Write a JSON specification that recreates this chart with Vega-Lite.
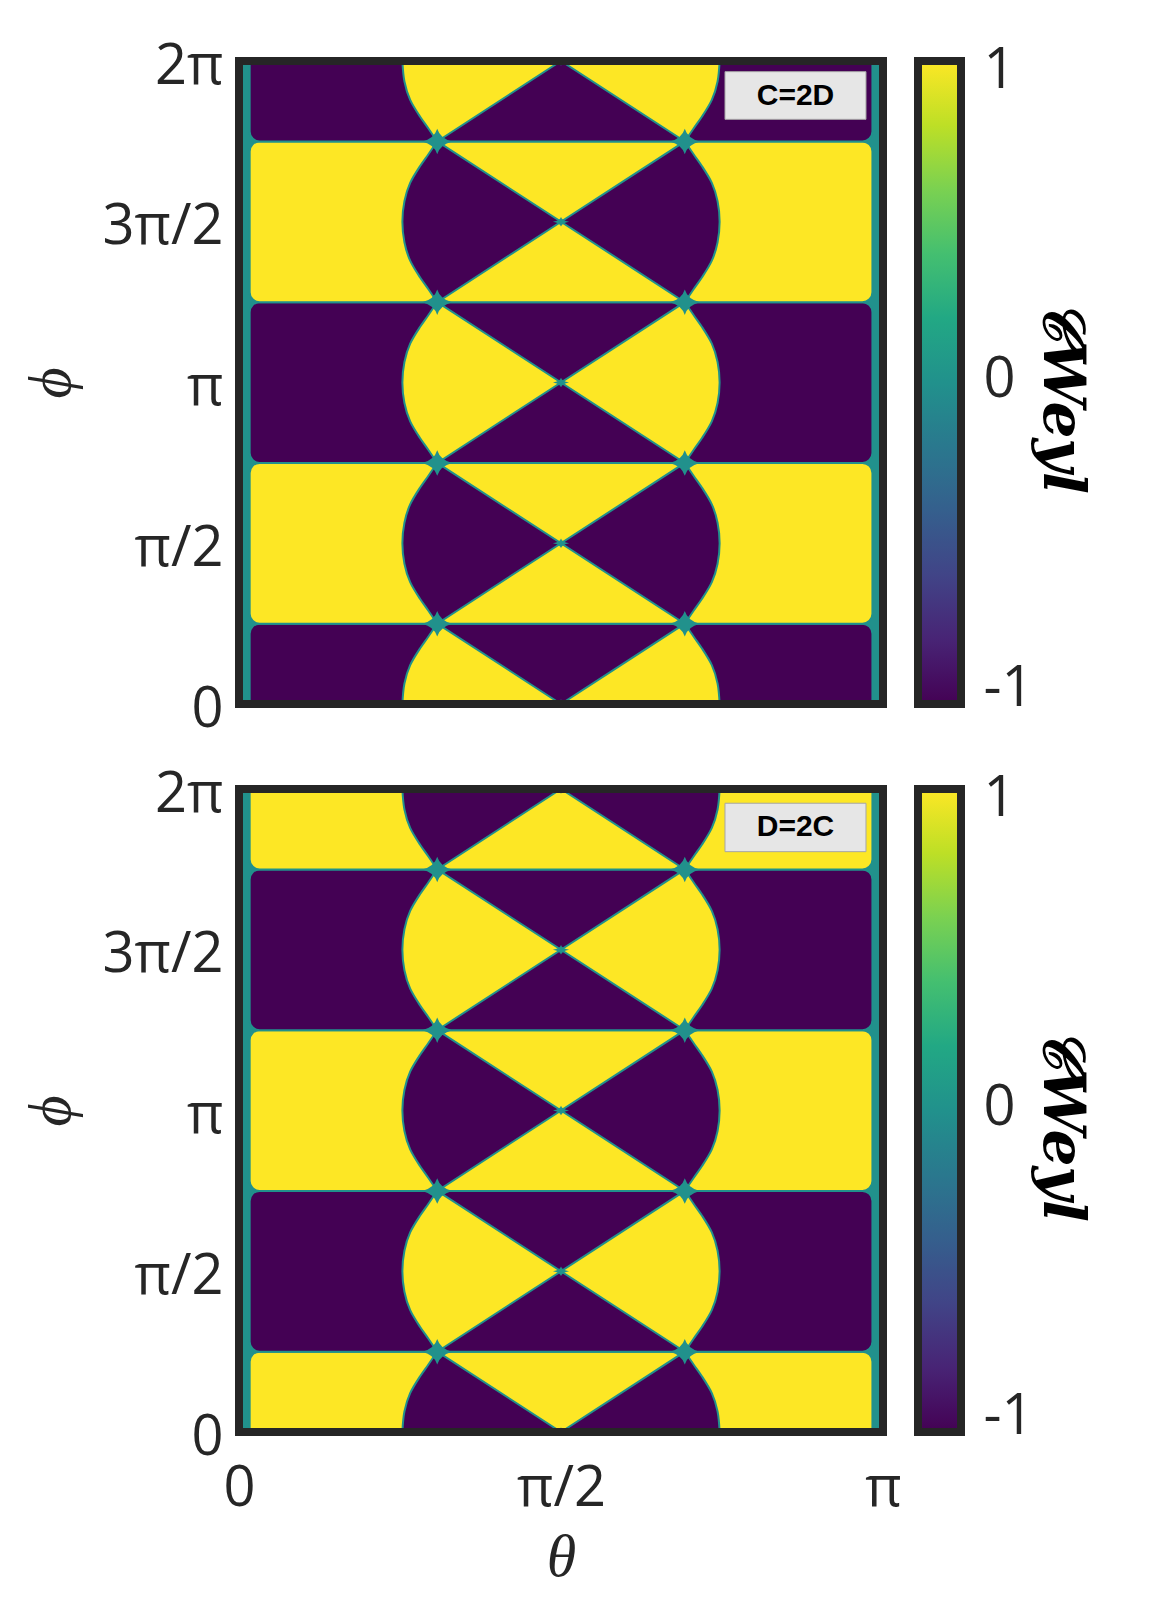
{
  "$schema": "https://vega.github.io/schema/vega-lite/v6.json",
  "background": "white",
  "padding": {"left": 21, "top": 38, "right": 40, "bottom": 5},
  "config": {
    "view": {"stroke": null},
    "axis": {"labelFont": "Open Sans", "labelColor": "#262626", "titleColor": "#262626", "grid": false, "domain": false, "ticks": false, "labelOverlap": false, "labelFlush": false}
  },
  "datasets": {
    "bands": [
      {"id": "b0", "t1": 0.052, "t2": 3.09, "p1": -0.2, "p2": 0.7854, "top": -1, "bot": 1},
      {"id": "b1", "t1": 0.052, "t2": 3.09, "p1": 0.7854, "p2": 2.3562, "top": 1, "bot": -1},
      {"id": "b2", "t1": 0.052, "t2": 3.09, "p1": 2.3562, "p2": 3.927, "top": -1, "bot": 1},
      {"id": "b3", "t1": 0.052, "t2": 3.09, "p1": 3.927, "p2": 5.4978, "top": 1, "bot": -1},
      {"id": "b4", "t1": 0.052, "t2": 3.09, "p1": 5.4978, "p2": 6.5, "top": -1, "bot": 1}
    ],
    "lens": [
      {"id": "L0", "p": 0.0, "a": 0.797, "b": 2.3446, "top": 1, "bot": -1},
      {"id": "L0", "p": 0.2, "a": 0.807, "b": 2.3346, "top": 1, "bot": -1},
      {"id": "L0", "p": 0.38, "a": 0.835, "b": 2.3066, "top": 1, "bot": -1},
      {"id": "L0", "p": 0.54, "a": 0.882, "b": 2.2596, "top": 1, "bot": -1},
      {"id": "L0", "p": 0.66, "a": 0.924, "b": 2.2176, "top": 1, "bot": -1},
      {"id": "L0", "p": 0.7854, "a": 0.967, "b": 2.1746, "top": 1, "bot": -1},
      {"id": "L1", "p": 0.7854, "a": 0.967, "b": 2.1746, "top": -1, "bot": 1},
      {"id": "L1", "p": 0.9108, "a": 0.924, "b": 2.2176, "top": -1, "bot": 1},
      {"id": "L1", "p": 1.0308, "a": 0.882, "b": 2.2596, "top": -1, "bot": 1},
      {"id": "L1", "p": 1.1908, "a": 0.835, "b": 2.3066, "top": -1, "bot": 1},
      {"id": "L1", "p": 1.3708, "a": 0.807, "b": 2.3346, "top": -1, "bot": 1},
      {"id": "L1", "p": 1.5708, "a": 0.797, "b": 2.3446, "top": -1, "bot": 1},
      {"id": "L1", "p": 1.7708, "a": 0.807, "b": 2.3346, "top": -1, "bot": 1},
      {"id": "L1", "p": 1.9508, "a": 0.835, "b": 2.3066, "top": -1, "bot": 1},
      {"id": "L1", "p": 2.1108, "a": 0.882, "b": 2.2596, "top": -1, "bot": 1},
      {"id": "L1", "p": 2.2308, "a": 0.924, "b": 2.2176, "top": -1, "bot": 1},
      {"id": "L1", "p": 2.3562, "a": 0.967, "b": 2.1746, "top": -1, "bot": 1},
      {"id": "L2", "p": 2.3562, "a": 0.967, "b": 2.1746, "top": 1, "bot": -1},
      {"id": "L2", "p": 2.4816, "a": 0.924, "b": 2.2176, "top": 1, "bot": -1},
      {"id": "L2", "p": 2.6016, "a": 0.882, "b": 2.2596, "top": 1, "bot": -1},
      {"id": "L2", "p": 2.7616, "a": 0.835, "b": 2.3066, "top": 1, "bot": -1},
      {"id": "L2", "p": 2.9416, "a": 0.807, "b": 2.3346, "top": 1, "bot": -1},
      {"id": "L2", "p": 3.1416, "a": 0.797, "b": 2.3446, "top": 1, "bot": -1},
      {"id": "L2", "p": 3.3416, "a": 0.807, "b": 2.3346, "top": 1, "bot": -1},
      {"id": "L2", "p": 3.5216, "a": 0.835, "b": 2.3066, "top": 1, "bot": -1},
      {"id": "L2", "p": 3.6816, "a": 0.882, "b": 2.2596, "top": 1, "bot": -1},
      {"id": "L2", "p": 3.8016, "a": 0.924, "b": 2.2176, "top": 1, "bot": -1},
      {"id": "L2", "p": 3.927, "a": 0.967, "b": 2.1746, "top": 1, "bot": -1},
      {"id": "L3", "p": 3.927, "a": 0.967, "b": 2.1746, "top": -1, "bot": 1},
      {"id": "L3", "p": 4.0524, "a": 0.924, "b": 2.2176, "top": -1, "bot": 1},
      {"id": "L3", "p": 4.1724, "a": 0.882, "b": 2.2596, "top": -1, "bot": 1},
      {"id": "L3", "p": 4.3324, "a": 0.835, "b": 2.3066, "top": -1, "bot": 1},
      {"id": "L3", "p": 4.5124, "a": 0.807, "b": 2.3346, "top": -1, "bot": 1},
      {"id": "L3", "p": 4.7124, "a": 0.797, "b": 2.3446, "top": -1, "bot": 1},
      {"id": "L3", "p": 4.9124, "a": 0.807, "b": 2.3346, "top": -1, "bot": 1},
      {"id": "L3", "p": 5.0924, "a": 0.835, "b": 2.3066, "top": -1, "bot": 1},
      {"id": "L3", "p": 5.2524, "a": 0.882, "b": 2.2596, "top": -1, "bot": 1},
      {"id": "L3", "p": 5.3724, "a": 0.924, "b": 2.2176, "top": -1, "bot": 1},
      {"id": "L3", "p": 5.4978, "a": 0.967, "b": 2.1746, "top": -1, "bot": 1},
      {"id": "L4", "p": 5.4978, "a": 0.967, "b": 2.1746, "top": 1, "bot": -1},
      {"id": "L4", "p": 5.6232, "a": 0.924, "b": 2.2176, "top": 1, "bot": -1},
      {"id": "L4", "p": 5.7432, "a": 0.882, "b": 2.2596, "top": 1, "bot": -1},
      {"id": "L4", "p": 5.9032, "a": 0.835, "b": 2.3066, "top": 1, "bot": -1},
      {"id": "L4", "p": 6.0832, "a": 0.807, "b": 2.3346, "top": 1, "bot": -1},
      {"id": "L4", "p": 6.2832, "a": 0.797, "b": 2.3446, "top": 1, "bot": -1}
    ],
    "bows": [
      {"id": "W0", "p": 0.0, "a": 1.5708, "b": 1.5708, "top": -1, "bot": 1},
      {"id": "W0", "p": 0.7854, "a": 0.967, "b": 2.1746, "top": -1, "bot": 1},
      {"id": "W1", "p": 0.7854, "a": 0.967, "b": 2.1746, "top": 1, "bot": -1},
      {"id": "W1", "p": 1.5708, "a": 1.5708, "b": 1.5708, "top": 1, "bot": -1},
      {"id": "W1", "p": 2.3562, "a": 0.967, "b": 2.1746, "top": 1, "bot": -1},
      {"id": "W2", "p": 2.3562, "a": 0.967, "b": 2.1746, "top": -1, "bot": 1},
      {"id": "W2", "p": 3.1416, "a": 1.5708, "b": 1.5708, "top": -1, "bot": 1},
      {"id": "W2", "p": 3.927, "a": 0.967, "b": 2.1746, "top": -1, "bot": 1},
      {"id": "W3", "p": 3.927, "a": 0.967, "b": 2.1746, "top": 1, "bot": -1},
      {"id": "W3", "p": 4.7124, "a": 1.5708, "b": 1.5708, "top": 1, "bot": -1},
      {"id": "W3", "p": 5.4978, "a": 0.967, "b": 2.1746, "top": 1, "bot": -1},
      {"id": "W4", "p": 5.4978, "a": 0.967, "b": 2.1746, "top": -1, "bot": 1},
      {"id": "W4", "p": 6.2832, "a": 1.5708, "b": 1.5708, "top": -1, "bot": 1}
    ],
    "nodes": [
      {"t": 0.967, "p": 0.7854}, {"t": 2.1746, "p": 0.7854},
      {"t": 0.967, "p": 2.3562}, {"t": 2.1746, "p": 2.3562},
      {"t": 0.967, "p": 3.927}, {"t": 2.1746, "p": 3.927},
      {"t": 0.967, "p": 5.4978}, {"t": 2.1746, "p": 5.4978}
    ],
    "centers": [
      {"t": 1.5708, "p": 0.0}, {"t": 1.5708, "p": 1.5708}, {"t": 1.5708, "p": 3.1416},
      {"t": 1.5708, "p": 4.7124}, {"t": 1.5708, "p": 6.2832}
    ],
    "frame": [{"t1": 0, "t2": 3.1416, "p1": 0, "p2": 6.2832}],
    "cbar": [{"c0": 0, "c1": 1, "lo": -1.05, "hi": 1.03}]
  },
  "vconcat": [
    {
      "hconcat": [
        {
          "width": 644, "height": 643,
          "view": {"fill": "#21918c", "stroke": null},
          "layer": [
            {
              "data": {"name": "bands"},
              "mark": {"type": "rect", "cornerRadius": 10, "stroke": "#21918c", "strokeWidth": 2, "clip": true},
              "encoding": {
                "x": {"field": "t1", "type": "quantitative", "scale": {"domain": [0, 3.1416], "nice": false, "zero": false}, "axis": null},
                "x2": {"field": "t2"},
                "y": {"field": "p1", "type": "quantitative", "scale": {"domain": [0, 6.2832], "nice": false, "zero": false},
                  "axis": {"values": [0, 1.5708, 3.1416, 4.7124, 6.2832],
                    "labelExpr": "datum.value < 0.5 ? '0' : datum.value < 2 ? 'π/2' : datum.value < 4 ? 'π' : datum.value < 5.5 ? '3π/2' : '2π'",
                    "labelFontSize": 56, "labelPadding": 16, "labelOffset": 5, "labelBaseline": "middle",
                    "title": "ϕ", "titleFont": "Liberation Serif", "titleFontStyle": "italic", "titleFontWeight": "normal", "titleFontSize": 60,
                    "titleX": -188, "titleBaseline": "middle"}},
                "y2": {"field": "p2"},
                "fill": {"field": "top", "type": "quantitative", "scale": {"domain": [-1, 0, 1], "range": ["#440154", "#21918c", "#fde725"]}, "legend": null}
              }
            },
            {
              "data": {"name": "lens"},
              "mark": {"type": "area", "orient": "horizontal", "interpolate": "monotone", "stroke": "#21918c", "strokeWidth": 2, "clip": true},
              "encoding": {
                "y": {"field": "p", "type": "quantitative"},
                "x": {"field": "a", "type": "quantitative", "axis": null},
                "x2": {"field": "b"},
                "detail": {"field": "id"},
                "fill": {"field": "top", "type": "quantitative", "legend": null}
              }
            },
            {
              "data": {"name": "bows"},
              "mark": {"type": "area", "orient": "horizontal", "stroke": "#21918c", "strokeWidth": 2, "clip": true},
              "encoding": {
                "y": {"field": "p", "type": "quantitative"},
                "x": {"field": "a", "type": "quantitative", "axis": null},
                "x2": {"field": "b"},
                "detail": {"field": "id"},
                "fill": {"field": "top", "type": "quantitative", "legend": null}
              }
            },
            {
              "data": {"name": "nodes"},
              "mark": {"type": "point", "shape": "M0,-0.85Q0.2,-0.2,1,0Q0.2,0.2,0,0.85Q-0.2,0.2,-1,0Q-0.2,-0.2,0,-0.85Z", "filled": true, "size": 900, "fill": "#21918c", "opacity": 1, "strokeWidth": 0, "clip": true},
              "encoding": {"x": {"field": "t", "type": "quantitative", "axis": null}, "y": {"field": "p", "type": "quantitative"}}
            },
            {
              "data": {"name": "centers"},
              "mark": {"type": "point", "shape": "M0,-0.6Q0.15,-0.15,1,0Q0.15,0.15,0,0.6Q-0.15,0.15,-1,0Q-0.15,-0.15,0,-0.6Z", "filled": true, "size": 260, "fill": "#21918c", "opacity": 1, "strokeWidth": 0, "clip": true},
              "encoding": {"x": {"field": "t", "type": "quantitative", "axis": null}, "y": {"field": "p", "type": "quantitative"}}
            },
            {
              "data": {"values": [{"label": "C=2D", "a": 2.3708, "b": 3.0586, "p1": 5.713, "p2": 6.179, "tt": 2.7147, "tp": 5.946}]},
              "mark": {"type": "rect", "fill": "#e6e6e6", "stroke": "#a6a6a6", "strokeWidth": 1},
              "encoding": {"x": {"field": "a", "type": "quantitative", "axis": null}, "x2": {"field": "b"}, "y": {"field": "p1", "type": "quantitative"}, "y2": {"field": "p2"}}
            },
            {
              "data": {"values": [{"label": "C=2D", "a": 2.3708, "b": 3.0586, "p1": 5.713, "p2": 6.179, "tt": 2.7147, "tp": 5.946}]},
              "mark": {"type": "text", "font": "Liberation Sans", "fontWeight": "bold", "fontSize": 30, "color": "#000000", "align": "center", "baseline": "middle"},
              "encoding": {"x": {"field": "tt", "type": "quantitative", "axis": null}, "y": {"field": "tp", "type": "quantitative"}, "text": {"field": "label"}}
            },
            {
              "data": {"name": "frame"},
              "mark": {"type": "rect", "fill": "transparent", "stroke": "#262626", "strokeWidth": 8},
              "encoding": {"x": {"field": "t1", "type": "quantitative", "axis": null}, "x2": {"field": "t2"}, "y": {"field": "p1", "type": "quantitative"}, "y2": {"field": "p2"}}
            }
          ]
        },
        {
          "width": 43, "height": 643,
          "data": {"name": "cbar"},
          "mark": {"type": "rect", "stroke": "#262626", "strokeWidth": 8,
            "fill": {"gradient": "linear", "x1": 0, "y1": 1, "x2": 0, "y2": 0,
              "stops": [
                {"offset": 0.0, "color": "#440154"}, {"offset": 0.1, "color": "#482475"}, {"offset": 0.2, "color": "#414487"},
                {"offset": 0.3, "color": "#355f8d"}, {"offset": 0.4, "color": "#2a788e"}, {"offset": 0.5, "color": "#21918c"},
                {"offset": 0.6, "color": "#22a884"}, {"offset": 0.7, "color": "#44bf70"}, {"offset": 0.8, "color": "#7ad151"},
                {"offset": 0.9, "color": "#bddf26"}, {"offset": 1.0, "color": "#fde725"}]}},
          "encoding": {
            "x": {"field": "c0", "type": "quantitative", "scale": {"domain": [0, 1], "nice": false, "zero": false}, "axis": null},
            "x2": {"field": "c1"},
            "y": {"field": "lo", "type": "quantitative", "scale": {"domain": [-1.05, 1.03], "nice": false, "zero": false},
              "axis": {"orient": "right", "values": [-1, 0, 1], "labelExpr": "datum.value < -0.5 ? '-1' : datum.value > 0.5 ? '1' : '0'", "labelFontSize": 56, "labelPadding": 22, "labelBaseline": "middle",
                "title": "𝒞Weyl", "titleFont": "DejaVu Serif", "titleFontStyle": "italic", "titleFontWeight": "bold", "titleFontSize": 58,
                "titleAngle": 90, "titleX": 99, "titleY": 335, "titleBaseline": "middle", "titleAlign": "center", "titleColor": "#000000"}},
            "y2": {"field": "hi"}
          }
        }
      ],
      "spacing": 27
    },
    {
      "hconcat": [
        {
          "width": 644, "height": 643,
          "view": {"fill": "#21918c", "stroke": null},
          "layer": [
            {
              "data": {"name": "bands"},
              "mark": {"type": "rect", "cornerRadius": 10, "stroke": "#21918c", "strokeWidth": 2, "clip": true},
              "encoding": {
                "x": {"field": "t1", "type": "quantitative", "scale": {"domain": [0, 3.1416], "nice": false, "zero": false},
                  "axis": {"values": [0, 1.5708, 3.1416],
                    "labelExpr": "datum.value < 0.5 ? '0' : datum.value < 2 ? 'π/2' : 'π'",
                    "labelFontSize": 56, "labelPadding": 73, "labelBaseline": "alphabetic",
                    "title": "θ", "titleFont": "Liberation Serif", "titleFontStyle": "italic", "titleFontWeight": "normal", "titleFontSize": 60,
                    "titleY": 143, "titleBaseline": "alphabetic"}},
                "x2": {"field": "t2"},
                "y": {"field": "p1", "type": "quantitative", "scale": {"domain": [0, 6.2832], "nice": false, "zero": false},
                  "axis": {"values": [0, 1.5708, 3.1416, 4.7124, 6.2832],
                    "labelExpr": "datum.value < 0.5 ? '0' : datum.value < 2 ? 'π/2' : datum.value < 4 ? 'π' : datum.value < 5.5 ? '3π/2' : '2π'",
                    "labelFontSize": 56, "labelPadding": 16, "labelOffset": 5, "labelBaseline": "middle",
                    "title": "ϕ", "titleFont": "Liberation Serif", "titleFontStyle": "italic", "titleFontWeight": "normal", "titleFontSize": 60,
                    "titleX": -188, "titleBaseline": "middle"}},
                "y2": {"field": "p2"},
                "fill": {"field": "bot", "type": "quantitative", "scale": {"domain": [-1, 0, 1], "range": ["#440154", "#21918c", "#fde725"]}, "legend": null}
              }
            },
            {
              "data": {"name": "lens"},
              "mark": {"type": "area", "orient": "horizontal", "interpolate": "monotone", "stroke": "#21918c", "strokeWidth": 2, "clip": true},
              "encoding": {
                "y": {"field": "p", "type": "quantitative"},
                "x": {"field": "a", "type": "quantitative"},
                "x2": {"field": "b"},
                "detail": {"field": "id"},
                "fill": {"field": "bot", "type": "quantitative", "legend": null}
              }
            },
            {
              "data": {"name": "bows"},
              "mark": {"type": "area", "orient": "horizontal", "stroke": "#21918c", "strokeWidth": 2, "clip": true},
              "encoding": {
                "y": {"field": "p", "type": "quantitative"},
                "x": {"field": "a", "type": "quantitative"},
                "x2": {"field": "b"},
                "detail": {"field": "id"},
                "fill": {"field": "bot", "type": "quantitative", "legend": null}
              }
            },
            {
              "data": {"name": "nodes"},
              "mark": {"type": "point", "shape": "M0,-0.85Q0.2,-0.2,1,0Q0.2,0.2,0,0.85Q-0.2,0.2,-1,0Q-0.2,-0.2,0,-0.85Z", "filled": true, "size": 900, "fill": "#21918c", "opacity": 1, "strokeWidth": 0, "clip": true},
              "encoding": {"x": {"field": "t", "type": "quantitative"}, "y": {"field": "p", "type": "quantitative"}}
            },
            {
              "data": {"name": "centers"},
              "mark": {"type": "point", "shape": "M0,-0.6Q0.15,-0.15,1,0Q0.15,0.15,0,0.6Q-0.15,0.15,-1,0Q-0.15,-0.15,0,-0.6Z", "filled": true, "size": 260, "fill": "#21918c", "opacity": 1, "strokeWidth": 0, "clip": true},
              "encoding": {"x": {"field": "t", "type": "quantitative"}, "y": {"field": "p", "type": "quantitative"}}
            },
            {
              "data": {"values": [{"label": "D=2C", "a": 2.3708, "b": 3.0586, "p1": 5.671, "p2": 6.144, "tt": 2.7147, "tp": 5.909}]},
              "mark": {"type": "rect", "fill": "#e6e6e6", "stroke": "#a6a6a6", "strokeWidth": 1},
              "encoding": {"x": {"field": "a", "type": "quantitative"}, "x2": {"field": "b"}, "y": {"field": "p1", "type": "quantitative"}, "y2": {"field": "p2"}}
            },
            {
              "data": {"values": [{"label": "D=2C", "a": 2.3708, "b": 3.0586, "p1": 5.671, "p2": 6.144, "tt": 2.7147, "tp": 5.909}]},
              "mark": {"type": "text", "font": "Liberation Sans", "fontWeight": "bold", "fontSize": 30, "color": "#000000", "align": "center", "baseline": "middle"},
              "encoding": {"x": {"field": "tt", "type": "quantitative"}, "y": {"field": "tp", "type": "quantitative"}, "text": {"field": "label"}}
            },
            {
              "data": {"name": "frame"},
              "mark": {"type": "rect", "fill": "transparent", "stroke": "#262626", "strokeWidth": 8},
              "encoding": {"x": {"field": "t1", "type": "quantitative"}, "x2": {"field": "t2"}, "y": {"field": "p1", "type": "quantitative"}, "y2": {"field": "p2"}}
            }
          ]
        },
        {
          "width": 43, "height": 643,
          "data": {"name": "cbar"},
          "mark": {"type": "rect", "stroke": "#262626", "strokeWidth": 8,
            "fill": {"gradient": "linear", "x1": 0, "y1": 1, "x2": 0, "y2": 0,
              "stops": [
                {"offset": 0.0, "color": "#440154"}, {"offset": 0.1, "color": "#482475"}, {"offset": 0.2, "color": "#414487"},
                {"offset": 0.3, "color": "#355f8d"}, {"offset": 0.4, "color": "#2a788e"}, {"offset": 0.5, "color": "#21918c"},
                {"offset": 0.6, "color": "#22a884"}, {"offset": 0.7, "color": "#44bf70"}, {"offset": 0.8, "color": "#7ad151"},
                {"offset": 0.9, "color": "#bddf26"}, {"offset": 1.0, "color": "#fde725"}]}},
          "encoding": {
            "x": {"field": "c0", "type": "quantitative", "scale": {"domain": [0, 1], "nice": false, "zero": false}, "axis": null},
            "x2": {"field": "c1"},
            "y": {"field": "lo", "type": "quantitative", "scale": {"domain": [-1.05, 1.03], "nice": false, "zero": false},
              "axis": {"orient": "right", "values": [-1, 0, 1], "labelExpr": "datum.value < -0.5 ? '-1' : datum.value > 0.5 ? '1' : '0'", "labelFontSize": 56, "labelPadding": 22, "labelBaseline": "middle",
                "title": "𝒞Weyl", "titleFont": "DejaVu Serif", "titleFontStyle": "italic", "titleFontWeight": "bold", "titleFontSize": 58,
                "titleAngle": 90, "titleX": 99, "titleY": 335, "titleBaseline": "middle", "titleAlign": "center", "titleColor": "#000000"}},
            "y2": {"field": "hi"}
          }
        }
      ],
      "spacing": 12
    }
  ],
  "spacing": 29
}
